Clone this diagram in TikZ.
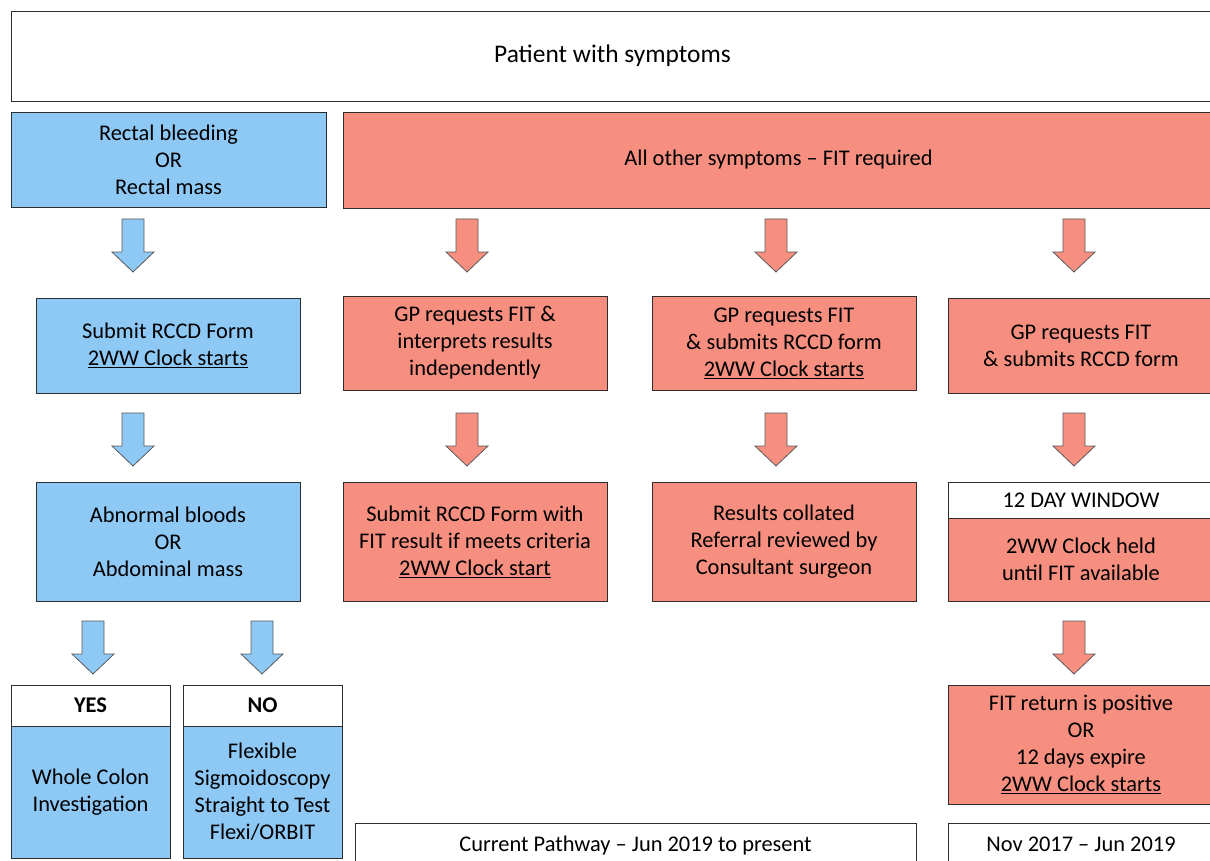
\documentclass[tikz,border=0pt]{standalone}
\usepackage{fontspec}
\setmainfont{Carlito}
\definecolor{bluef}{RGB}{142,200,245}
\definecolor{redf}{RGB}{246,143,128}
\definecolor{edge}{RGB}{45,45,45}
\definecolor{arredge}{RGB}{90,90,90}
\tikzset{
  box/.style={draw=edge, line width=0.9pt, anchor=north west, inner sep=0pt, outer sep=0pt,
    align=center, font=\fontsize{22.4}{27}\selectfont},
  sz/.style 2 args={minimum width=#1pt, minimum height=#2pt},
  bluebox/.style={box, fill=bluef},
  redbox/.style={box, fill=redf},
  whitebox/.style={box, fill=white},
  pics/downarrow/.style={code={
    \draw[draw=arredge, line width=0.8pt, fill=#1, line join=miter]
      (-11,0) -- (11,0) -- (11,33) -- (21,33) -- (0,53) -- (-21,33) -- (-11,33) -- cycle;}}
}
\begin{document}
\begin{tikzpicture}[x=1pt,y=-1pt]
\clip (0,0) rectangle (1210,861);
\fill[white] (0,0) rectangle (1210,861);
% row 0
\node[whitebox, sz={1203}{90}, font=\fontsize{25.4}{27}\selectfont] (top) at (11,11) {Patient with symptoms};
% row 1
\node[bluebox, sz={315}{95}] (b1) at (11,112) {Rectal bleeding\\OR\\Rectal mass};
\node[redbox, sz={871}{96}] (r1) at (343,112) {All other symptoms -- FIT required};
% arrows 1
\pic (a1) at (133,219) {downarrow=bluef};
\pic (a2) at (467,219) {downarrow=redf};
\pic (a3) at (776,219) {downarrow=redf};
\pic (a4) at (1074,219) {downarrow=redf};
% row 2
\node[bluebox, sz={264}{95}] (b2) at (36,298) {Submit RCCD Form\\\underline{2WW Clock starts}};
\node[redbox, sz={264}{94}] (r2a) at (343,296) {GP requests FIT \&\\interprets results\\independently};
\node[redbox, sz={264}{94}] (r2b) at (652,296) {GP requests FIT\\\& submits RCCD form\\\underline{2WW Clock starts}};
\node[redbox, sz={266}{95}] (r2c) at (948,298) {GP requests FIT\\\& submits RCCD form};
% arrows 2
\pic (a5) at (133,413) {downarrow=bluef};
\pic (a6) at (467,413) {downarrow=redf};
\pic (a7) at (776,413) {downarrow=redf};
\pic (a8) at (1074,413) {downarrow=redf};
% row 3
\node[bluebox, sz={264}{119}] (b3) at (36,482) {Abnormal bloods\\OR\\Abdominal mass};
\node[redbox, sz={264}{119}] (r3a) at (343,482) {Submit RCCD Form with\\FIT result if meets criteria\\\underline{2WW Clock start}};
\node[redbox, sz={264}{119}] (r3b) at (652,482) {Results collated\\Referral reviewed by\\Consultant surgeon};
\node[redbox, sz={266}{83}] (r3c) at (948,518) {2WW Clock held\\until FIT available};
\node[whitebox, sz={266}{36}] (h12) at (948,482) {12 DAY WINDOW};
% arrows 3
\pic (a9) at (93,621) {downarrow=bluef};
\pic (a10) at (262,621) {downarrow=bluef};
\pic (a11) at (1074,621) {downarrow=redf};
% row 4
\node[bluebox, sz={159}{132}] (yesb) at (11,726) {Whole Colon\\Investigation};
\node[whitebox, sz={159}{41}, font=\fontsize{22.4}{27}\selectfont\bfseries] (yes) at (11,685) {YES};
\node[bluebox, sz={159}{132}] (nob) at (183,726) {Flexible\\Sigmoidoscopy\\Straight to Test\\Flexi/ORBIT};
\node[whitebox, sz={159}{41}, font=\fontsize{22.4}{27}\selectfont\bfseries] (no) at (183,685) {NO};
\node[redbox, sz={266}{119}] (r4) at (948,685) {FIT return is positive\\OR\\12 days expire\\\underline{2WW Clock starts}};
% legend labels
\node[whitebox, sz={561}{45}] (cur) at (355,823) {Current Pathway -- Jun 2019 to present};
\node[whitebox, sz={266}{42}] (old) at (948,823) {Nov 2017 -- Jun 2019};
\end{tikzpicture}
\end{document}
